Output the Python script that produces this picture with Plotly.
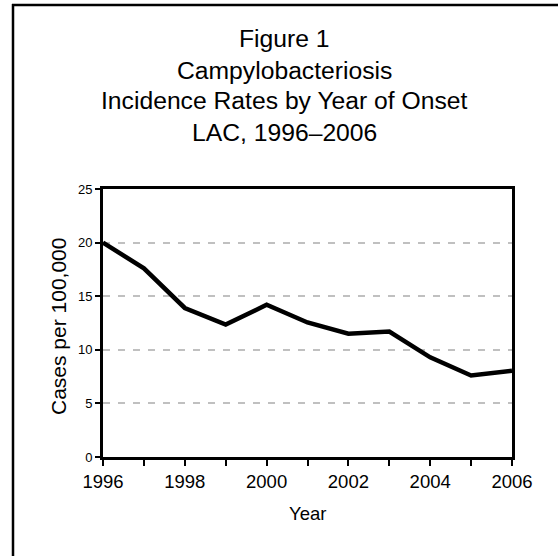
import plotly.graph_objects as go

years = [1996, 1997, 1998, 1999, 2000, 2001, 2002, 2003, 2004, 2005, 2006]
rates = [20.0, 17.6, 13.9, 12.35, 14.2, 12.55, 11.5, 11.7, 9.3, 7.6, 8.05]
x_tick_text = ["1996", "", "1998", "", "2000", "", "2002", "", "2004", "", "2006"]
y_ticks = [0, 5, 10, 15, 20, 25]
title_lines = [
    "Figure 1",
    "Campylobacteriosis",
    "Incidence Rates by Year of Onset",
    "LAC, 1996\u20132006",
]

FONT = "Liberation Sans, Arial, sans-serif"

W, H = 558, 556
L, R, T, B = 103, 46, 189, 99
PW, PH = W - L - R, H - T - B


def px(x):
    return (x - L) / PW


def py(y):
    return (H - B - y) / PH


fig = go.Figure(
    data=[
        go.Scatter(
            x=years,
            y=rates,
            mode="lines",
            line={"color": "black", "width": 4.5},
            hoverinfo="skip",
        )
    ]
)

fig.update_layout(
    width=W,
    height=H,
    margin={"l": L, "r": R, "t": T, "b": B},
    paper_bgcolor="white",
    plot_bgcolor="white",
    showlegend=False,
    font={"family": FONT, "color": "black"},
)

fig.update_xaxes(
    range=[1996, 2006],
    tickvals=years,
    ticktext=x_tick_text,
    ticks="outside",
    ticklen=6,
    tickwidth=2,
    tickcolor="black",
    tickfont={"size": 18.5},
    showline=True,
    linecolor="black",
    linewidth=3,
    mirror=True,
    showgrid=False,
    zeroline=False,
)
fig.update_yaxes(
    range=[0, 25],
    tickvals=y_ticks,
    ticks="outside",
    ticklen=5,
    tickwidth=2,
    tickcolor="black",
    tickfont={"size": 13},
    showline=True,
    linecolor="black",
    linewidth=3,
    mirror=True,
    showgrid=True,
    gridcolor="#c0c0c0",
    gridwidth=2,
    griddash="7px,8px",
    zeroline=False,
)

# axis titles
fig.add_annotation(
    text="Year", xref="paper", yref="paper", x=px(307), y=py(513),
    xanchor="center", yanchor="middle", showarrow=False, font={"size": 18.5},
)
fig.add_annotation(
    text="Cases per 100,000", xref="paper", yref="paper", x=px(58), y=py(327),
    xanchor="center", yanchor="middle", textangle=-90, showarrow=False,
    font={"size": 21},
)

# title lines
title_y = [38, 70, 101, 132]
for text, ypix in zip(title_lines, title_y):
    fig.add_annotation(
        text=text, xref="paper", yref="paper", x=px(284), y=py(ypix),
        xanchor="center", yanchor="middle", showarrow=False,
        font={"size": 24.7},
    )

# outer frame (top and left edges)
fig.add_shape(
    type="line", xref="paper", yref="paper",
    x0=px(12), x1=px(W + 5), y0=py(5), y1=py(5),
    line={"color": "black", "width": 2.5},
)
fig.add_shape(
    type="line", xref="paper", yref="paper",
    x0=px(13), x1=px(13), y0=py(4), y1=py(H + 5),
    line={"color": "black", "width": 2.5},
)

fig.write_html(
    "out.html",
    config={"displayModeBar": False},
    post_script="document.body.style.margin = '0';",
)
